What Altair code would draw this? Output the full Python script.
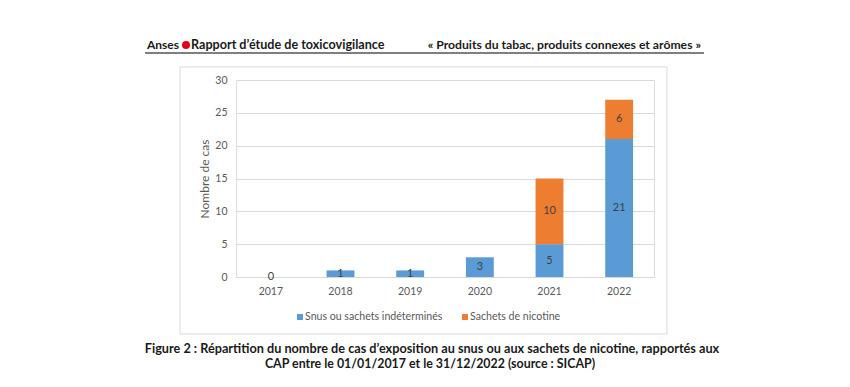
import altair as alt
import pandas as pd

# ---- data ----
years = ["2017", "2018", "2019", "2020", "2021", "2022"]
snus = [0, 1, 1, 3, 5, 21]
nicotine = [0, 0, 0, 0, 10, 6]
series_names = ["Snus ou sachets indéterminés", "Sachets de nicotine"]
series_colors = ["#5B9BD5", "#ED7D31"]
y_ticks = [0, 5, 10, 15, 20, 25, 30]

header_left = "Anses"
header_mid = "Rapport d’étude de toxicovigilance"
header_right = "« Produits du tabac, produits connexes et arômes »"
caption_1 = "Figure 2 : Répartition du nombre de cas d’exposition au snus ou aux sachets de nicotine, rapportés aux"
caption_2 = "CAP entre le 01/01/2017 et le 31/12/2022 (source : SICAP)"
y_title = "Nombre de cas"

rows = []
for i, y in enumerate(years):
    rows.append({"year": y, "series": series_names[0], "ord": 0, "value": snus[i]})
    rows.append({"year": y, "series": series_names[1], "ord": 1, "value": nicotine[i]})
df = pd.DataFrame(rows)

FONT = "Lato"
GRAY = "#595959"

# plot area origin in page: x=236, y=80
OX, OY = 236, 80

base = alt.Chart(df)

x_axis = alt.Axis(labelAngle=0, ticks=False, domain=False, labelPadding=9,
                  labelFont=FONT, labelFontSize=10.5, labelColor=GRAY)
y_axis = alt.Axis(values=y_ticks, ticks=False, domain=False, labelPadding=9,
                  labelOverlap=False, gridColor="#d9d9d9", labelFont=FONT,
                  labelFontSize=10.5, labelColor=GRAY, titleFont=FONT,
                  titleFontSize=12, titleFontWeight="normal", titleColor=GRAY,
                  titlePadding=3)
x_scale = alt.Scale(paddingInner=0.6, paddingOuter=0.3)
y_scale = alt.Scale(domain=[0, 30])
color_scale = alt.Scale(domain=series_names, range=series_colors)

bars = base.mark_bar().encode(
    x=alt.X("year:N", sort=years, title=None, scale=x_scale, axis=x_axis),
    y=alt.Y("value:Q", stack="zero", scale=y_scale, title=y_title, axis=y_axis),
    color=alt.Color("series:N", scale=color_scale, legend=None),
    order=alt.Order("ord:Q", sort="ascending"),
)

labels = base.transform_stack(
    stack="value", as_=["v0", "v1"], groupby=["year"], sort=[alt.SortField("ord")]
).transform_calculate(
    mid="(datum.v0 + datum.v1) / 2"
).transform_filter(
    "datum.value > 0 || datum.ord == 0"
).mark_text(font=FONT, fontSize=11, color="#404040", baseline="middle").encode(
    x=alt.X("year:N", sort=years, title=None, scale=x_scale, axis=x_axis),
    y=alt.Y("mid:Q", scale=y_scale, title=y_title, axis=y_axis),
    text=alt.Text("value:Q"),
)

one = pd.DataFrame({"k": [0]})

frame = alt.Chart(one).mark_rect(fill="transparent", stroke="#d9d9d9", strokeWidth=1).encode(
    x=alt.value(180 - OX), x2=alt.value(667 - OX),
    y=alt.value(67 - OY), y2=alt.value(334 - OY),
)

underline = alt.Chart(one).mark_rule(color="#555555", strokeWidth=1.5).encode(
    x=alt.value(145 - OX), x2=alt.value(704 - OX), y=alt.value(53 - OY),
)

dot = alt.Chart(one).mark_point(filled=True, color="#e2001a", size=64, opacity=1).encode(
    x=alt.value(186 - OX), y=alt.value(45 - OY),
)


def txt(s, x, y, align="left", weight="bold", size=12.5, color="#1a1a1a"):
    return alt.Chart(pd.DataFrame({"t": [s]})).mark_text(
        font=FONT, fontSize=size, fontWeight=weight, align=align, baseline="middle", color=color
    ).encode(text="t:N", x=alt.value(x - OX), y=alt.value(y - OY))


def legend_item(i, x):
    sym = alt.Chart(pd.DataFrame({"series": [series_names[i]]})).mark_square(
        size=36, opacity=1, filled=True
    ).encode(x=alt.value(x + 3 - OX), y=alt.value(317 - OY),
             color=alt.Color("series:N", scale=color_scale, legend=None))
    lab = txt(series_names[i], x + 8, 317, weight="normal", size=10.6, color=GRAY)
    return sym, lab


s1, l1 = legend_item(0, 297)
s2, l2 = legend_item(1, 462)

h1 = txt(header_left, 147, 45, size=12)
h2 = txt(header_mid, 191, 45, size=12.6)
h3 = txt(header_right, 701, 45, align="right", size=12.2)
c1 = txt(caption_1, 432, 349, align="center", size=12.7)
c2 = txt(caption_2, 430, 364, align="center", size=12.4)

chart = alt.layer(frame, bars, labels, s1, l1, s2, l2, underline, dot, h1, h2, h3, c1, c2).properties(
    width=418,
    height=197,
    autosize=alt.AutoSizeParams(type="none"),
    padding={"left": OX - 8, "top": OY - 8, "right": 834 - (OX - 8) - 418, "bottom": 371 - (OY - 8) - 197},
).configure_view(stroke=None).configure(background="white")

chart.save("out.html", embed_options={"renderer": "svg", "actions": False})
